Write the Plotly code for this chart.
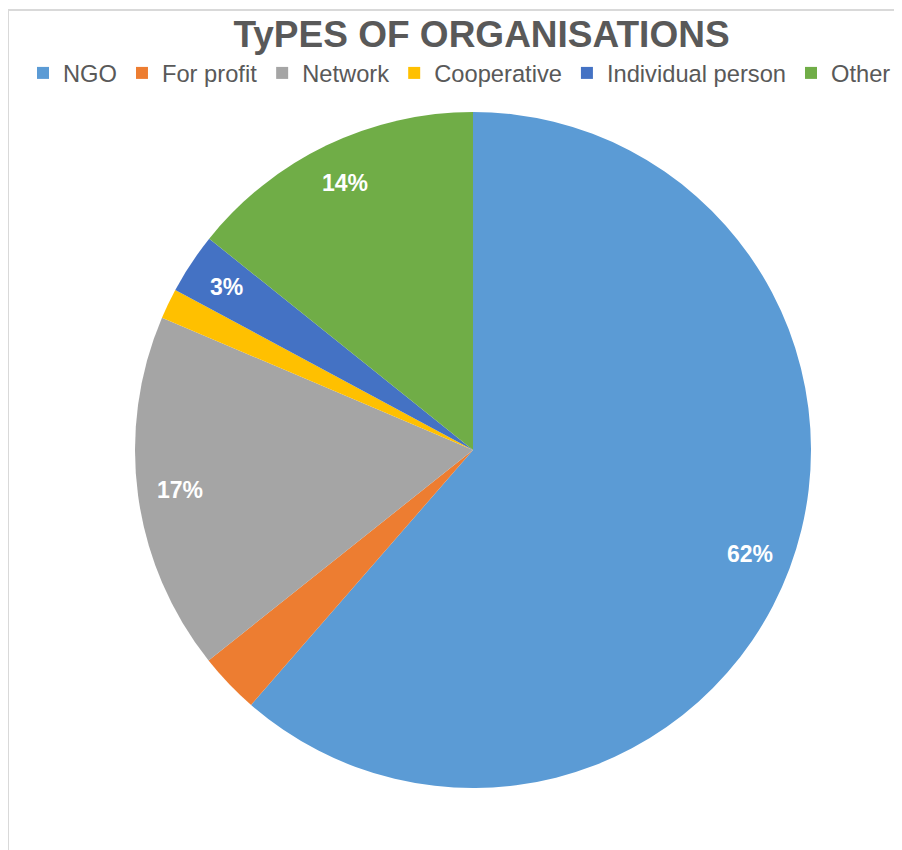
import math
import plotly.graph_objects as go

W, H = 902, 850

categories = ["NGO", "For profit", "Network", "Cooperative", "Individual person", "Other"]
shares = [61.4, 2.9, 17.1, 1.45, 2.9, 14.25]
# data labels as printed on the chart (empty = no label shown)
label_texts = ["62%", "", "17%", "", "3%", "14%"]
colors = ["#5B9BD5", "#ED7D31", "#A5A5A5", "#FFC000", "#4472C4", "#70AD47"]
title_text = "TyPES OF ORGANISATIONS"

FONT = "Liberation Sans, Arial, sans-serif"

# pie geometry (figure pixels)
cx, cy, R = 465, 442, 338
label_r = 0.875

fig = go.Figure(go.Pie(
    labels=categories,
    values=shares,
    sort=False,
    direction="clockwise",
    rotation=0,
    marker=dict(colors=colors, line=dict(width=0)),
    textinfo="none",
    hoverinfo="label+percent",
    domain=dict(x=[(cx - R) / W, (cx + R) / W], y=[(H - cy - R) / H, (H - cy + R) / H]),
))

# data labels placed at the middle angle of each slice (derived from the values)
total = sum(shares)
annotations = []
cum = 0
for v, txt in zip(shares, label_texts):
    mid = (cum + v / 2) / total * 2 * math.pi
    cum += v
    if not txt:
        continue
    px = cx + label_r * R * math.sin(mid)
    py = (H - cy) + label_r * R * math.cos(mid)
    annotations.append(dict(
        x=px / W, y=py / H, xref="paper", yref="paper",
        text="<b>" + txt + "</b>",
        showarrow=False, xanchor="center", yanchor="middle",
        font=dict(family=FONT, size=23, color="white"),
    ))

fig.update_layout(
    width=W, height=H,
    margin=dict(l=0, r=0, t=0, b=0),
    paper_bgcolor="white",
    plot_bgcolor="white",
    title=dict(
        text="<b>" + title_text + "</b>",
        x=473.5 / W, xanchor="center",
        y=1 - 26 / H, yanchor="middle", yref="container",
        font=dict(family=FONT, size=37, color="#595959"),
    ),
    legend=dict(
        orientation="h",
        x=15 / W, xanchor="left",
        y=1 - 65 / H, yanchor="middle",
        font=dict(family=FONT, size=23.7, color="#595959"),
        itemclick=False,
        traceorder="normal",
    ),
    annotations=annotations,
    shapes=[dict(
        type="rect", xref="paper", yref="paper",
        x0=0, x1=1.05, y0=-0.05, y1=1 - 2 / H,
        line=dict(color="#D9D9D9", width=2),
        fillcolor="rgba(0,0,0,0)",
        layer="below",
    )],
)

fig.write_html("out.html")
